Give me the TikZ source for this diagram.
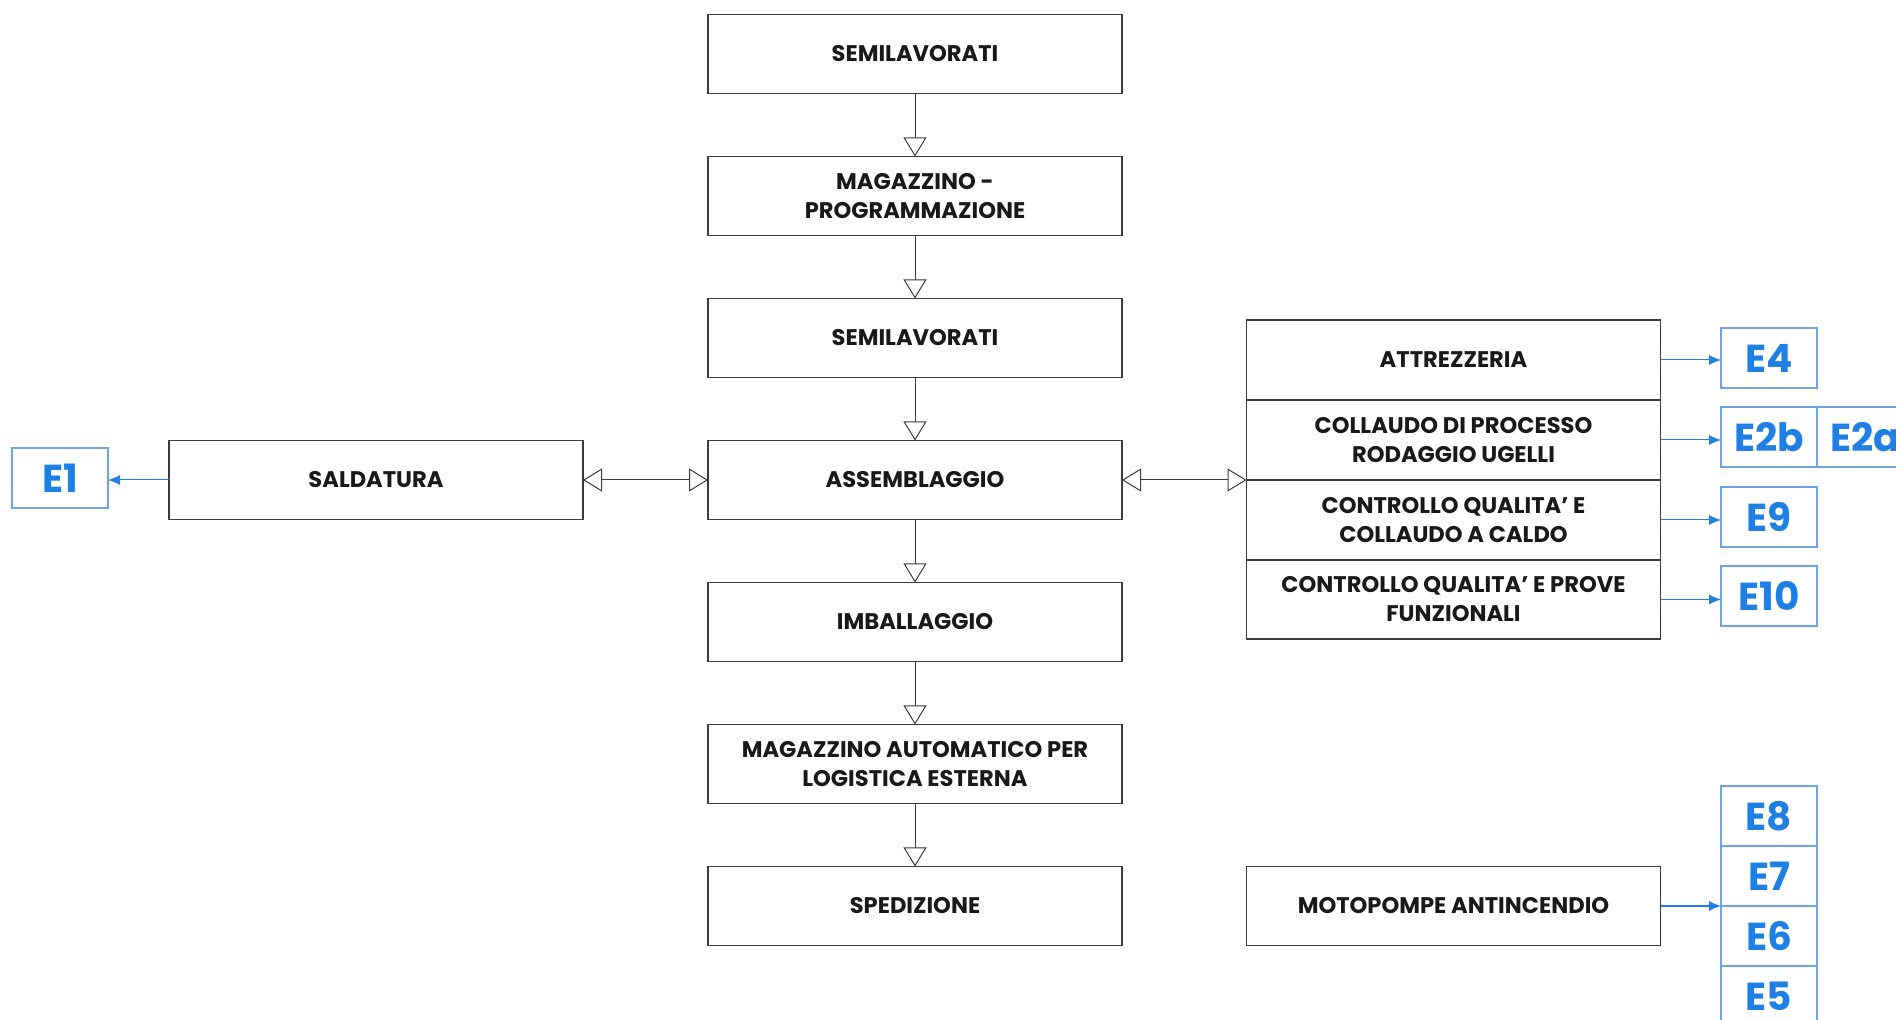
\documentclass[tikz,border=0pt]{standalone}
\usepackage{fontspec}
\setmainfont{Poppins}
\usetikzlibrary{arrows.meta}
\definecolor{eblue}{RGB}{30,128,228}
\definecolor{eborder}{RGB}{110,165,225}
\definecolor{boxline}{RGB}{60,60,60}
\newcommand\sq{\char"27\relax}
\tikzset{
  box/.style={draw=boxline, line width=0.7pt, fill=white, minimum width=207pt, minimum height=39.5pt,
    inner sep=0pt, outer sep=0pt, align=center, font=\fontsize{11.3}{14.5}\selectfont\bfseries, text=black!90},
  ebox/.style={draw=eborder, line width=0.6pt, fill=white, minimum width=48pt, minimum height=30pt,
    inner sep=0pt, outer sep=0pt, font=\fontsize{19.5}{20}\selectfont\bfseries, text=eblue},
  flow/.style={draw=boxline, line width=0.5pt, -{Triangle[open, length=9.5pt, width=11.5pt]}},
  flowboth/.style={draw=boxline, line width=0.5pt, {Triangle[open, length=9.5pt, width=11.5pt]}-{Triangle[open, length=9.5pt, width=11.5pt]}},
  eflow/.style={draw=eblue, line width=0.5pt, -{Latex[length=6pt, width=5pt]}}
}
\begin{document}
\begin{tikzpicture}[x=0.5pt, y=-0.5pt]
\useasboundingbox (0,0) rectangle (1896,1020);
\clip (0,0) rectangle (1896,1020);
\fill[white] (0,0) rectangle (1896,1020);
% central column
\node[box] (s1) at (915,54) {SEMILAVORATI};
\node[box] (mag) at (915,196) {MAGAZZINO -\\PROGRAMMAZIONE};
\node[box] (s2) at (915,338) {SEMILAVORATI};
\node[box] (ass) at (915,480) {ASSEMBLAGGIO};
\node[box] (imb) at (915,622) {IMBALLAGGIO};
\node[box] (maga) at (915,764) {MAGAZZINO AUTOMATICO PER\\LOGISTICA ESTERNA};
\node[box] (sped) at (915,906) {SPEDIZIONE};
% left
\node[box] (sal) at (376,480) {SALDATURA};
\node[ebox] (e1) at (60,478) {E1};
% right stack
\node[box, minimum height=40pt] (att) at (1453.5,360) {ATTREZZERIA};
\node[box, minimum height=40pt] (col) at (1453.5,440) {COLLAUDO DI PROCESSO\\RODAGGIO UGELLI};
\node[box, minimum height=40pt] (cqc) at (1453.5,520) {CONTROLLO QUALITA\sq{} E\\COLLAUDO A CALDO};
\node[box, minimum height=39.5pt] (cqp) at (1453.5,599.5) {CONTROLLO QUALITA\sq{} E PROVE\\FUNZIONALI};
\node[box] (moto) at (1453.5,906) {MOTOPOMPE ANTINCENDIO};
% E boxes right
\node[ebox] (e4) at (1769,358) {E4};
\node[ebox] (e2b) at (1769,437) {E2b};
\node[ebox, anchor=west] (e2a) at (e2b.east) {E2a};
\node[ebox] (e9) at (1769,517) {E9};
\node[ebox] (e10) at (1769,596) {E10};
\node[ebox] (e8) at (1769,816) {E8};
\node[ebox, anchor=north] (e7) at (e8.south) {E7};
\node[ebox, anchor=north] (e6) at (e7.south) {E6};
\node[ebox, anchor=north] (e5) at (e6.south) {E5};
% connectors
\draw[flow] (s1) -- (mag);
\draw[flow] (mag) -- (s2);
\draw[flow] (s2) -- (ass);
\draw[flow] (ass) -- (imb);
\draw[flow] (imb) -- (maga);
\draw[flow] (maga) -- (sped);
\draw[flowboth] (sal.east) -- (ass.west);
\draw[flowboth] (ass.east) -- (ass.east -| col.west);
\draw[eflow] (sal.west) -- (e1.east |- sal.west);
\draw[eflow] (att.east) -- (e4.west |- att.east);
\draw[eflow] (col.east) -- (e2b.west |- col.east);
\draw[eflow] (cqc.east) -- (e9.west |- cqc.east);
\draw[eflow] (cqp.east) -- (e10.west |- cqp.east);
\draw[eflow] (moto.east) -- (e7.south west);
\end{tikzpicture}
\end{document}
